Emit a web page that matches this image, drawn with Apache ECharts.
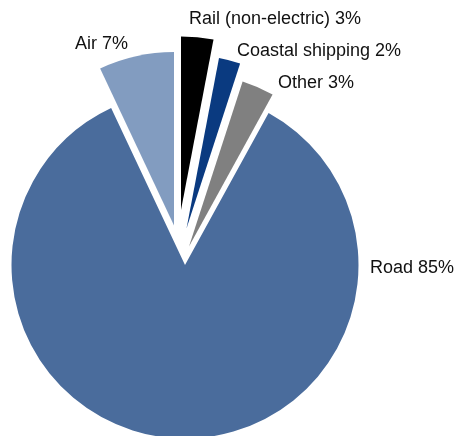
<!DOCTYPE html>
<html>
<head>
<meta charset="utf-8">
<script src="https://cdn.jsdelivr.net/npm/echarts@6/dist/echarts.min.js"></script>
<style>
html,body{margin:0;padding:0;background:#fff;}
#container{width:457px;height:436px;}
</style>
</head>
<body>
<div id="container"></div>
<script>
// data
var names = ['Rail (non-electric)', 'Coastal shipping', 'Other', 'Road', 'Air'];
var values = [3, 2, 3, 85, 7];

// style
var colors = ['#000000', '#0a3a80', '#808080', '#4a6c9c', '#829cc0'];
// exploded slices: each slice gets its own pie centre
var centers = [[181, 210], [186.5, 228.5], [189, 246.5], [185, 265], [174, 225.5]];
var labelPos = [[189, 19, 'left'], [237, 51, 'left'], [278, 83, 'left'], [370, 268, 'left'], [128, 44, 'right']];

var dom = document.getElementById("container");
var myChart = echarts.init(dom);

function pie(center) {
	return {
		type: 'pie',
		center: center,
		radius: 173.5,
		startAngle: 90,
		clockwise: true,
		animation: false,
		silent: true,
		selectedMode: false,
		avoidLabelOverlap: false,
		labelLine: { show: false }
	};
}

// one pie per slice, only that slice is painted
var series = names.map(function(n, i) {
	return echarts.util.extend({
		label: { show: false },
		data: names.map(function(m, j) {
			return {
				name: m,
				value: values[j],
				itemStyle: { color: j === i ? colors[j] : 'rgba(0,0,0,0)' }
			};
		})
	}, pie(centers[i]));
});

// invisible pie on top that only carries the labels
series.push(echarts.util.extend({
	label: {
		show: true,
		formatter: function(p) { return p.name + ' ' + p.value + '%'; },
		color: '#111',
		fontFamily: 'Liberation Sans, Arial, sans-serif',
		fontSize: 18
	},
	labelLayout: function(p) {
		var q = labelPos[p.dataIndex];
		return { x: q[0], y: q[1], align: q[2], verticalAlign: 'middle' };
	},
	data: names.map(function(m, j) {
		return { name: m, value: values[j], itemStyle: { color: 'rgba(0,0,0,0)' } };
	})
}, pie(centers[3])));

var option = { series: series };
myChart.setOption(option, true);
</script>
</body>
</html>
